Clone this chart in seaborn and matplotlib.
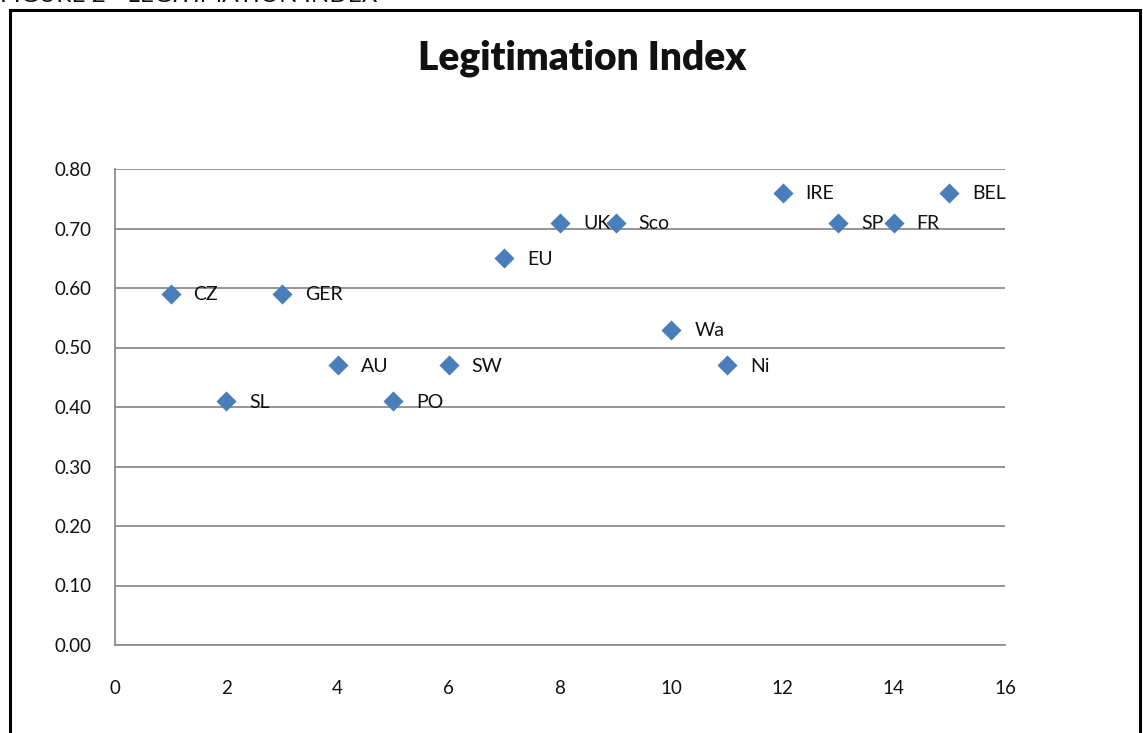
import numpy as np
import pandas as pd
import matplotlib.pyplot as plt
import seaborn as sns
from matplotlib.patches import Rectangle

# data
countries = ['CZ', 'SL', 'GER', 'AU', 'PO', 'SW', 'EU', 'UK', 'Sco', 'Wa',
             'Ni', 'IRE', 'SP', 'FR', 'BEL']
rank = [1, 2, 3, 4, 5, 6, 7, 8, 9, 10, 11, 12, 13, 14, 15]
legit = [0.59, 0.41, 0.59, 0.47, 0.41, 0.47, 0.65, 0.71, 0.71, 0.53,
         0.47, 0.76, 0.71, 0.71, 0.76]
y_ticks = [0.0, 0.1, 0.2, 0.3, 0.4, 0.5, 0.6, 0.7, 0.8]
x_ticks = [0, 2, 4, 6, 8, 10, 12, 14, 16]

df = pd.DataFrame({'rank': rank, 'legit': legit, 'country': countries})

sns.set_style('white')
plt.rcParams['font.family'] = ['Lato', 'DejaVu Sans']

fig = plt.figure(figsize=(11.43, 7.33), dpi=100)
ax = fig.add_axes([115 / 1143, 1 - 645 / 733, 890 / 1143, 476 / 733])

sns.scatterplot(data=df, x='rank', y='legit', marker='D', s=105,
                color='#4a7ebb', edgecolor='#4a7ebb', linewidth=0, ax=ax,
                zorder=3)

for _, row in df.iterrows():
    ax.annotate(row['country'], (row['rank'], row['legit']),
                xytext=(23, -1), textcoords='offset pixels',
                va='center', ha='left', fontsize=14, color='#111111',
                zorder=4)

ax.set_xlim(0, 16)
ax.set_ylim(0, 0.8)
ax.set_xticks(x_ticks)
ax.set_yticks(y_ticks)
ax.set_yticklabels([f'{v:.2f}' for v in y_ticks])
ax.set_xlabel('')
ax.set_ylabel('')

ax.yaxis.grid(True, color='#8c8c8c', linewidth=1.3)
ax.xaxis.grid(False)
for side in ['top', 'right']:
    ax.spines[side].set_visible(False)
for side in ['left', 'bottom']:
    ax.spines[side].set_color('#8c8c8c')
    ax.spines[side].set_linewidth(1.3)
ax.tick_params(axis='both', which='major', direction='out', length=7,
               width=1.3, color='#8c8c8c', labelsize=13.5, labelcolor='#111111')
ax.tick_params(axis='x', pad=18)
ax.tick_params(axis='y', pad=10)

fig.text(582 / 1143, 1 - 58 / 733, 'Legitimation Index', ha='center',
         va='center', fontsize=28, fontweight='heavy', color='#111111')

# caption at the very top of the page, cut off as in the scan
fig.text(0, 1 + 5 / 733, 'FIGURE 2 - LEGITIMATION INDEX', ha='left',
         va='center', fontsize=17.5, color='#111111')

# outer frame of the chart
fig.patches.append(Rectangle((10 / 1143, -0.05), 1130 / 1143, 1 - 10 / 733 + 0.05,
                             transform=fig.transFigure, fill=False,
                             edgecolor='black', linewidth=2.2))

fig.savefig('out.png', dpi=100)
